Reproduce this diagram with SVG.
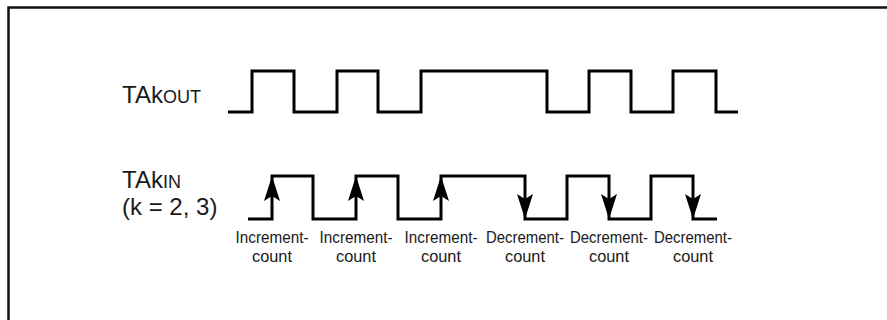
<svg xmlns="http://www.w3.org/2000/svg" width="887" height="320" viewBox="0 0 887 320">
<style>
.wave{fill:none;stroke:#000;stroke-width:3;stroke-linejoin:miter;stroke-linecap:butt}
.sig{font-family:"Liberation Sans",Arial,sans-serif;font-size:24px;fill:#1a1a1a}
.lbl{font-family:"Liberation Sans",Arial,sans-serif;font-size:17px;fill:#1a1a1a;text-anchor:middle}
.frame{fill:none;stroke:#111;stroke-width:2.5}
</style>
<defs>
<path id="up" d="M0,0 L-8,25 L0,20 L8,25 Z" fill="#000"/>
<path id="down" d="M0,0 L-8,-25 L0,-20 L8,-25 Z" fill="#000"/>
</defs>
<rect class="frame" x="8.5" y="7.5" width="900" height="400"/>
<g id="takout">
<text class="sig" x="122" y="103">TAk<tspan font-size="18px">OUT</tspan></text>
<path class="wave" d="M228,112 H252 V71 H294 V112 H337 V71 H378 V112 H421 V71 H547 V112 H589 V71 H631 V112 H673 V71 H716 V112 H738"/>
</g>
<g id="takin">
<text class="sig" x="122" y="188">TAk<tspan font-size="18px">IN</tspan></text>
<text class="sig" x="122" y="215">(k = 2, 3)</text>
<path class="wave" d="M248,219 H272 V176 H313 V219 H356 V176 H398 V219 H441 V176 H525 V219 H567 V176 H609 V219 H651 V176 H693 V219 H717"/>
</g>
<g id="arrows">
<use href="#up" x="272" y="176"/>
<use href="#up" x="356" y="176"/>
<use href="#up" x="441" y="176"/>
<use href="#down" x="525" y="219"/>
<use href="#down" x="609" y="219"/>
<use href="#down" x="693" y="219"/>
</g>
<g id="labels">
<text class="lbl" x="272" y="243" textLength="73" lengthAdjust="spacingAndGlyphs">Increment-</text>
<text class="lbl" x="272" y="262" textLength="40" lengthAdjust="spacingAndGlyphs">count</text>
<text class="lbl" x="356" y="243" textLength="73" lengthAdjust="spacingAndGlyphs">Increment-</text>
<text class="lbl" x="356" y="262" textLength="40" lengthAdjust="spacingAndGlyphs">count</text>
<text class="lbl" x="441" y="243" textLength="73" lengthAdjust="spacingAndGlyphs">Increment-</text>
<text class="lbl" x="441" y="262" textLength="40" lengthAdjust="spacingAndGlyphs">count</text>
<text class="lbl" x="525" y="243" textLength="78" lengthAdjust="spacingAndGlyphs">Decrement-</text>
<text class="lbl" x="525" y="262" textLength="40" lengthAdjust="spacingAndGlyphs">count</text>
<text class="lbl" x="609" y="243" textLength="78" lengthAdjust="spacingAndGlyphs">Decrement-</text>
<text class="lbl" x="609" y="262" textLength="40" lengthAdjust="spacingAndGlyphs">count</text>
<text class="lbl" x="693" y="243" textLength="78" lengthAdjust="spacingAndGlyphs">Decrement-</text>
<text class="lbl" x="693" y="262" textLength="40" lengthAdjust="spacingAndGlyphs">count</text>
</g>
</svg>
